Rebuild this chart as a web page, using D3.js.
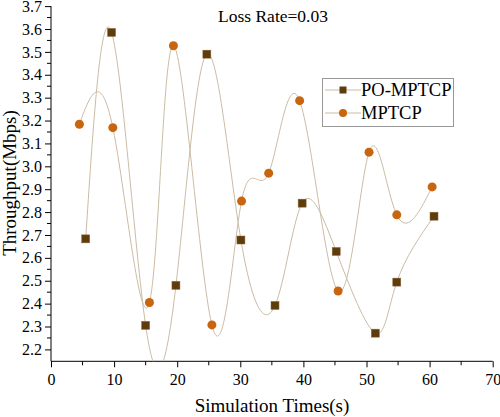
<!DOCTYPE html>
<html><head><meta charset="utf-8">
<script src="https://cdn.jsdelivr.net/npm/d3@7"></script>
<style>body{margin:0;background:#fff}text{font-family:"Liberation Serif","Times New Roman",serif}</style>
</head><body><svg id="c" width="500" height="417"></svg>
<script>
const poX = [5.5, 9.6, 15.0, 19.8, 24.7, 30.1, 35.5, 39.8, 45.2, 51.4, 54.8, 60.7];
const poY = [2.683, 3.585, 2.305, 2.48, 3.49, 2.678, 2.392, 2.839, 2.628, 2.271, 2.494, 2.782];
const mpX = [4.5, 9.8, 15.6, 19.4, 25.5, 30.2, 34.5, 39.4, 45.5, 50.4, 54.8, 60.4];
const mpY = [3.184, 3.169, 2.405, 3.527, 2.307, 2.848, 2.970, 3.287, 2.455, 3.062, 2.788, 2.910];
const xTicks = [0, 10, 20, 30, 40, 50, 60, 70];
const yTicks = [2.2, 2.3, 2.4, 2.5, 2.6, 2.7, 2.8, 2.9, 3.0, 3.1, 3.2, 3.3, 3.4, 3.5, 3.6, 3.7];
const seriesNames = ["PO-MPTCP", "MPTCP"];
const title = "Loss Rate=0.03";

const svg = d3.select("#c");
const x = d3.scaleLinear().domain([0, 70]).range([51, 492.7]);
const y = d3.scaleLinear().domain([2.2, 3.6]).range([349.4, 29]);
const y0 = y.invert(361.3);
const yTop = 3.7;

const lineCol = "#cbbba4";
const sqCol = "#5e3c0b";
const ciCol = "#c8650e";

// axes
const xAxis = d3.axisBottom(x).tickValues(xTicks).tickSize(6).tickFormat(d3.format("d"));
const gx = svg.append("g").attr("transform", `translate(0,${y(y0)})`).call(xAxis);
gx.select(".domain").attr("d", `M${x(0)},0H${x(70)}`);
gx.selectAll("text").attr("font-size", 16).attr("dy", "0.95em").attr("fill", "#000");
gx.selectAll(".tick line").attr("stroke", "#000");
const xMinor = d3.range(5, 70, 10);
gx.selectAll(".mt").data(xMinor).join("line").attr("x1", d => x(d)).attr("x2", d => x(d)).attr("y1", 0).attr("y2", 4).attr("stroke", "#000");

const yAxis = d3.axisLeft(y).tickValues(yTicks).tickSize(6).tickFormat(d3.format(".1f"));
const gy = svg.append("g").attr("transform", `translate(${x(0)},0)`).call(yAxis);
gy.select(".domain").attr("d", `M0,${y(y0)}V${y(yTop)}`);
gy.selectAll("text").attr("font-size", 16).attr("fill", "#000");
gy.selectAll(".tick line").attr("stroke", "#000");
const yMinor = d3.range(2.25, 3.7, 0.1);
gy.selectAll(".mt").data(yMinor).join("line").attr("y1", d => y(d)).attr("y2", d => y(d)).attr("x1", 0).attr("x2", -4).attr("stroke", "#000");

// clip
svg.append("clipPath").attr("id", "clp").append("rect")
  .attr("x", x(0)).attr("y", y(yTop)).attr("width", x(70) - x(0)).attr("height", y(y0) - y(yTop));

const line = d3.line().x(d => x(d[0])).y(d => y(d[1])).curve(d3.curveNatural);
const po = poX.map((v, i) => [v, poY[i]]);
const mp = mpX.map((v, i) => [v, mpY[i]]);
const gl = svg.append("g").attr("clip-path", "url(#clp)");
gl.append("path").attr("d", line(mp)).attr("fill", "none").attr("stroke", lineCol).attr("stroke-width", 1);
gl.append("path").attr("d", line(po)).attr("fill", "none").attr("stroke", lineCol).attr("stroke-width", 1);

svg.append("g").selectAll("rect").data(po).join("rect")
  .attr("x", d => x(d[0]) - 4).attr("y", d => y(d[1]) - 4).attr("width", 8).attr("height", 8)
  .attr("fill", sqCol).attr("stroke", "#8a6a3a").attr("stroke-width", 0.5);
svg.append("g").selectAll("circle").data(mp).join("circle")
  .attr("cx", d => x(d[0])).attr("cy", d => y(d[1])).attr("r", 4.5)
  .attr("fill", ciCol);

// title
svg.append("text").attr("x", 273).attr("y", 22).attr("text-anchor", "middle").attr("font-size", 17.5).text(title);

// axis labels
svg.append("text").attr("x", 272).attr("y", 412).attr("text-anchor", "middle").attr("font-size", 19).text("Simulation Times(s)");
svg.append("text").attr("transform", "translate(16,183) rotate(-90)").attr("text-anchor", "middle").attr("font-size", 19).text("Throughput(Mbps)");

// legend
const lg = svg.append("g");
lg.append("rect").attr("x", 322.5).attr("y", 78.5).attr("width", 131).attr("height", 48).attr("fill", "#fff").attr("stroke", "#999").attr("stroke-width", 1);
const rows = [90, 113];
seriesNames.forEach((n, i) => {
  lg.append("line").attr("x1", 325).attr("x2", 361).attr("y1", rows[i]).attr("y2", rows[i]).attr("stroke", lineCol);
  if (i === 0) lg.append("rect").attr("x", 339.5).attr("y", rows[i] - 3.5).attr("width", 7).attr("height", 7).attr("fill", sqCol);
  else lg.append("circle").attr("cx", 343).attr("cy", rows[i]).attr("r", 4).attr("fill", ciCol);
  lg.append("text").attr("x", 361).attr("y", rows[i] + 6).attr("font-size", 18.5).text(n);
});
</script></body></html>
